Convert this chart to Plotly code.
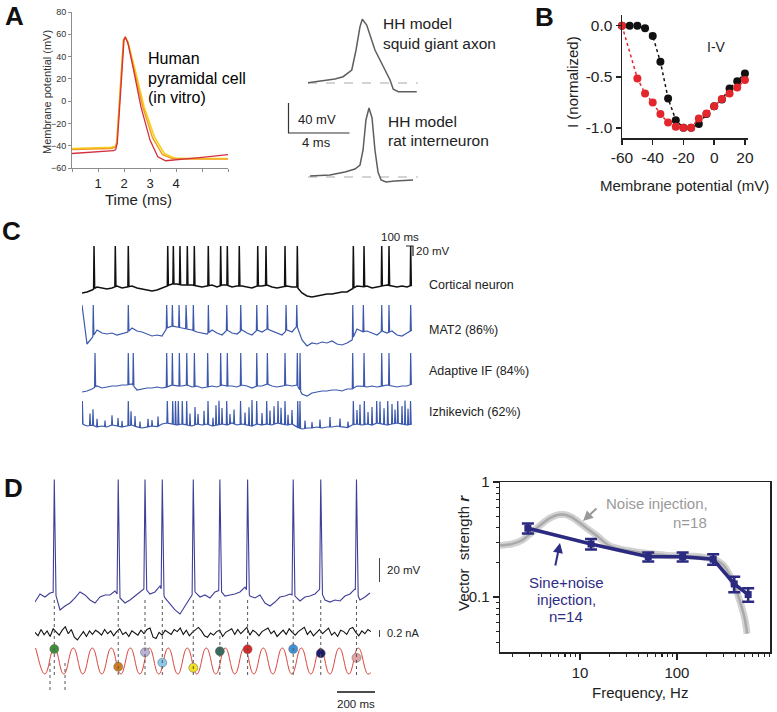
import numpy as np
import plotly.graph_objects as go

W, H = 777, 712
FONT = "Arial, Liberation Sans, Helvetica, sans-serif"

# ======================= DATA =======================
# ---- Panel A (left): human pyramidal cell APs (time ms, mV)
a_yellow_t = [0, 1.0, 1.5, 1.66, 1.72, 1.80, 1.90, 1.98, 2.05, 2.15, 2.40, 2.77, 3.17, 3.55, 3.93, 4.5, 6.0]
a_yellow_v = [-42.5, -42.2, -41.5, -40.8, -37, -10, 30, 55, 57, 53, 31, -5, -32, -47, -51, -51.5, -51.5]
a_orange_t = [0, 1.0, 1.5, 1.66, 1.72, 1.80, 1.90, 1.98, 2.05, 2.15, 2.36, 2.72, 3.10, 3.48, 3.85, 4.5, 6.0]
a_orange_v = [-43.5, -43.2, -42.5, -41.6, -37.5, -10, 30, 55, 57.5, 53, 31, -5, -33, -48, -51.5, -52, -52]
a_red_t = [0, 0.8, 1.6, 1.68, 1.74, 1.82, 1.92, 2.0, 2.05, 2.15, 2.35, 2.65, 3.0, 3.3, 3.6, 4.2, 5.0, 6.0]
a_red_v = [-47, -46, -44.5, -43.5, -38, -10, 30, 55, 57.5, 52, 30, -5, -35, -50, -53.5, -52.5, -50.5, -48]
a_xticks = [0, 1, 2, 3, 4, 5, 6]
a_xlabels = ["", "1", "2", "3", "4", "", ""]
a_yticks = [-60, -40, -20, 0, 20, 40, 60, 80]

# ---- Panel A (right): HH models (time ms, mV)
hh_squid_t = [0, 1.1, 1.77, 2.3, 2.56, 2.87, 3.15, 3.41, 3.56, 3.85, 4.39, 5.05, 5.38, 5.59, 5.92, 7.13]
hh_squid_v = [-64.6, -61.7, -59.7, -56.6, -52.3, -47.7, -21, 10.1, 19.9, 12.3, -21, -47.7, -61, -73.4, -76.6, -76.6]
hh_rat_t = [0.13, 1.44, 2.43, 3.08, 3.41, 3.61, 3.80, 4.00, 4.20, 4.39, 4.59, 4.79, 5.11, 5.70, 6.89]
hh_rat_v = [-63.7, -62.3, -58.3, -54.3, -49, -29, 11, 27, 13.7, -29, -58.3, -69, -71.7, -70.3, -69]
hh_rest_mv = -65
hh_rest_span = [0, 7.2]
hh_bar_ms, hh_bar_mv = 4, 40

# ---- Panel B: I-V curves
iv_v = [-60, -55, -50, -45, -40, -35, -30, -25, -20, -15, -10, -5, 0, 5, 10, 15, 20]
iv_black = [0, 0, 0, -0.026, -0.10, -0.353, -0.712, -0.925, -1.0, -1.0, -0.964, -0.866, -0.788, -0.722, -0.614, -0.543, -0.467]
iv_red_v = [-60, -50, -45, -40, -35, -30, -25, -20, -15, -10, -5, 0, 5, 10, 15, 20]
iv_red = [0, -0.516, -0.663, -0.752, -0.866, -0.948, -0.99, -1.0, -1.0, -0.908, -0.86, -0.788, -0.719, -0.663, -0.605, -0.533]

# ---- Panel C: spike trains (time ms, mV)
c_duration = 4719
c_cortical_base = [-70, -68, -64, -58, -60, -62, -60, -56, -60, -58, -56, -60, -62, -64, -66, -64, -60, -56, -52, -52,
                   -54, -54, -54, -56, -58, -56, -54, -58, -54, -54, -58, -56, -56, -58, -60, -56, -56, -54, -58, -60,
                   -58, -56, -58, -58, -70, -76, -78, -76, -74, -72, -72, -70, -68, -68, -62, -56, -58, -56, -60, -58,
                   -56, -54, -56, -58, -56, -58, -54]
c_cortical_spikes = [172, 476, 662, 1226, 1306, 1401, 1506, 1606, 1806, 1983, 2078, 2249, 2513, 2631, 2903, 3079,
                     3880, 4033, 4286, 4390, 4700]
c_cortical_peak = 24
c_mat2_base = [-14, -92, -80, -64, -70, -72, -70, -74, -72, -70, -60, -66, -68, -72, -76, -74, -76, -60, -56, -58,
               -60, -62, -64, -68, -70, -72, -64, -70, -74, -64, -70, -72, -64, -70, -74, -64, -68, -62, -66, -70,
               -74, -64, -68, -56, -84, -96, -90, -92, -88, -90, -86, -92, -94, -90, -84, -62, -68, -66, -70, -74,
               -66, -70, -66, -74, -76, -70, -64]
c_mat2_spikes = [161, 662, 1211, 1292, 1388, 1488, 1592, 1807, 2070, 2270, 2499, 2651, 2918, 3071, 3872, 4023,
                 4286, 4390, 4700]
c_mat2_peak = -14
c_adif_base = [-78, -76, -72, -66, -70, -68, -66, -66, -64, -64, -62, -74, -72, -70, -70, -68, -70, -68, -64, -66,
               -66, -64, -68, -66, -70, -68, -66, -68, -64, -66, -66, -68, -64, -66, -70, -66, -66, -62, -66, -68,
               -66, -64, -66, -64, -82, -86, -80, -78, -76, -76, -74, -74, -76, -72, -72, -66, -66, -68, -66, -68,
               -66, -64, -66, -68, -66, -66, -62]
c_adif_spikes = [186, 662, 733, 1211, 1292, 1392, 1498, 1607, 1797, 1983, 2078, 2270, 2499, 2651, 2903, 3079, 3118,
                 3871, 4033, 4286, 4390, 4700]
c_adif_peak = 0
c_izh_base = [-64, -68, -66, -70, -68, -70, -66, -68, -70, -68, -66, -70, -72, -70, -68, -70, -64, -62, -64, -66,
              -64, -66, -68, -64, -66, -64, -68, -66, -64, -66, -62, -66, -64, -66, -68, -64, -66, -64, -66, -62,
              -64, -66, -64, -70, -74, -72, -72, -70, -72, -70, -70, -68, -70, -72, -66, -64, -66, -64, -66, -62,
              -64, -66, -64, -62, -64, -66, -64]
c_izh_spikes = [5, 662, 1220, 1297, 1337, 1377, 1434, 1497, 1802, 2069, 2267, 2498, 2641, 2903, 3085, 3117, 3880,
                4037, 4214, 4372, 4515, 4698]
c_izh_peak = -18
c_izh_small_t = [114, 157, 215, 329, 429, 515, 572, 701, 758, 829, 944, 1001, 1087, 1544, 1616, 1659, 1745, 1873,
                 1916, 1959, 2002, 2116, 2174, 2331, 2388, 2431, 2574, 2688, 2746, 2803, 2846, 2946, 3003, 3189,
                 3289, 3403, 3546, 3689, 3804, 3932, 3975, 4090, 4147, 4261, 4319, 4433, 4476, 4576, 4619, 4662]
c_izh_small_h = [24, 32, 16, 12, 20, 16, 12, 28, 20, 12, 16, 12, 20, 24, 36, 20, 28, 16, 40, 48, 32, 20, 28, 24,
                 36, 52, 24, 28, 36, 44, 32, 20, 28, 16, 12, 16, 20, 16, 12, 28, 40, 24, 36, 44, 32, 40, 28, 36,
                 48, 32]
c_bar_ms, c_bar_mv = 100, 20
c_labels = ["Cortical neuron", "MAT2 (86%)", "Adaptive IF (84%)", "Izhikevich (62%)"]

# ---- Panel D (left): sine+noise injection (time ms)
d_duration = 1763
d_vm_base = [-64.2, -57.5, -60, -56.7, -55.8, -70.8, -67.5, -65, -60.8, -55.8, -58.3, -62.5, -65, -60, -58.3, -58.3,
             -55, -60.8, -65, -62.5, -59.2, -55.8, -52.5, -57.5, -55.8, -50.8, -60.8, -65.8, -70.8, -74.2, -67.5,
             -60, -55.8, -60, -58.3, -60.8, -55.8, -54.2, -59.2, -58.3, -57.5, -55.8, -51.7, -59.2, -60.8, -58.3,
             -65, -67.5, -64.2, -60, -59.2, -57.5, -59.2, -63.3, -60, -59.2, -57.5, -53.3, -62.5, -64.2, -62.5,
             -63.3, -59.2, -57.5, -53.3, -62.5, -60, -56.7]
d_spikes = [101.5, 438, 579, 670, 833, 973, 1119, 1359, 1504, 1692]
d_spike_peak = 38
d_current = [0.02, -0.08, 0.10, -0.05, 0.06, -0.10, 0.12, 0.04, -0.06, 0.08, 0.18, -0.02, 0.10, -0.12, -0.20, -0.08,
             0.04, -0.10, 0.06, -0.04, 0.08, 0.02, -0.06, 0.10, -0.02, 0.06, -0.08, 0.04, 0.12, -0.04, 0.02, -0.10,
             0.06, 0.00, -0.06, 0.08, -0.02, 0.10, 0.14, -0.12, -0.16, 0.02, -0.06, 0.08, 0.02, -0.04, 0.10, 0.04,
             0.14, -0.04, 0.08, -0.08, 0.02, 0.10, 0.16, 0.06, -0.08, -0.12, 0.00, -0.06, 0.04, 0.08, -0.10, 0.02,
             0.06, 0.12, -0.04, 0.10, -0.02, 0.06, 0.16, -0.06, 0.08, 0.02, -0.08, 0.04, 0.10, 0.14, -0.02, 0.06,
             -0.10, 0.00, 0.08, -0.04, 0.12, 0.02, -0.06, 0.04, 0.10, 0.16, -0.04, 0.06, -0.08, 0.02, 0.10, -0.02,
             0.06, 0.14, -0.06, 0.02, -0.10, 0.08, 0.04, -0.04, 0.12, 0.16, 0.02, -0.08, 0.06, -0.02, 0.10, 0.04]
d_sine_t = [0, 1.5, 51.5, 101.5, 151.5, 201.5, 251.5, 301.5, 351.5, 401.5, 451.5, 501.5, 551.5, 601.5, 651.5, 701.5,
            751.5, 801.5, 851.5, 901.5, 951.5, 1001.5, 1051.5, 1101.5, 1151.5, 1201.5, 1251.5, 1301.5, 1351.5,
            1401.5, 1451.5, 1501.5, 1551.5, 1601.5, 1651.5, 1701.5, 1751.5, 1768]
d_sine_v = [0.9, 1, -1, 1, -1, 1, -1, 1, -1, 1, -1, 1, -1, 1, -1, 1, -1, 1, -1, 1, -1, 1, -1, 1, -1, 1, -1, 1, -1,
            1, -1, 1, -1, 1, -1, 1, -1, -0.9]
d_dot_level = [0.92, -0.44, 0.67, -0.13, -0.52, 0.75, 0.90, 0.92, 0.59, 0.25]
d_dot_colors = ["#3f8f3a", "#d07d22", "#b9b2d6", "#8cc6ea", "#f2e21c", "#3b6b5c", "#d42a2a", "#3d92d8",
                "#1c1c6a", "#e2a3a3"]
d_extra_marks = [79, 158]
d_bar_ms, d_bar_mv, d_bar_na = 200, 20, 0.2

# ---- Panel D (right): vector strength vs frequency
noise_f = [1.5, 2, 2.5, 3, 3.5, 4, 5, 6, 7, 8, 9, 10, 12, 15, 20, 30, 40, 60, 80, 100, 150, 200, 250, 300, 350,
           400, 450, 500, 530]
noise_r = [0.28, 0.29, 0.31, 0.35, 0.39, 0.43, 0.49, 0.52, 0.52, 0.50, 0.47, 0.44, 0.39, 0.34, 0.28, 0.255, 0.245,
           0.235, 0.23, 0.228, 0.226, 0.22, 0.21, 0.19, 0.155, 0.12, 0.09, 0.065, 0.048]
sine_f = [2.9, 13, 50.6, 114.5, 236.6, 390, 543]
sine_r = [0.396, 0.289, 0.224, 0.224, 0.213, 0.130, 0.105]
sine_err = [0.04, 0.03, 0.02, 0.02, 0.022, 0.02, 0.014]

# ======================= HELPERS =======================
fig = go.Figure()
layout = {}
AX = {}


def add_axis(n, px, py, xr, yr, xtype="linear", ytype="linear", xstyle=None, ystyle=None):
    sfx = "" if n == 1 else str(n)
    AX[n] = (px, py, xr, yr)
    base = dict(showgrid=False, zeroline=False, fixedrange=True, visible=False, automargin=False)
    xa = dict(base, domain=[px[0] / W, px[1] / W], range=xr, type=xtype, anchor="y" + sfx)
    ya = dict(base, domain=[1 - py[1] / H, 1 - py[0] / H], range=yr, type=ytype, anchor="x" + sfx)
    if xstyle:
        xa.update(visible=True, **xstyle)
    if ystyle:
        ya.update(visible=True, **ystyle)
    layout["xaxis" + sfx] = xa
    layout["yaxis" + sfx] = ya


def yr_from(py, ref_py, ref_v, ppu):
    return [ref_v - (py[1] - ref_py) / ppu, ref_v + (ref_py - py[0]) / ppu]


def data_x(n, p):
    px, py, xr, yr = AX[n]
    return xr[0] + (p - px[0]) / (px[1] - px[0]) * (xr[1] - xr[0])


def data_y(n, p):
    px, py, xr, yr = AX[n]
    return yr[1] - (p - py[0]) / (py[1] - py[0]) * (yr[1] - yr[0])


def ref(n):
    return "" if n == 1 else str(n)


def line(n, x, y, color, width=1.2, dash=None, shape="linear", **kw):
    fig.add_trace(go.Scatter(x=list(x), y=list(y), mode="lines", xaxis="x" + ref(n), yaxis="y" + ref(n),
                             line=dict(color=color, width=width, dash=dash, shape=shape), hoverinfo="skip", **kw))


def merge_spikes(t_base, v_base, spike_t, spike_h, pre, post, rel=False):
    tb = np.asarray(t_base, float)
    vb = np.asarray(v_base, float)
    st = np.asarray(spike_t, float)
    sh = np.broadcast_to(np.asarray(spike_h, float), st.shape)
    mask = np.ones(tb.size, bool)
    for s in st:
        mask &= ~((tb > s - pre) & (tb < s + post))
    T = list(tb[mask])
    V = list(vb[mask])
    for s, h in zip(st, sh):
        b0 = np.interp(s - pre, tb, vb)
        b1 = np.interp(s + post, tb, vb)
        T += [s - pre, s, s + post]
        V += [b0, b0 + h if rel else h, b1]
    order = np.argsort(T, kind="stable")
    return np.array(T)[order], np.array(V)[order]


annotations = []


def ann(text, x, y, size, color="#000", xanchor="center", yanchor="middle", angle=0):
    annotations.append(dict(text=text, x=x / W, y=1 - y / H, xref="paper", yref="paper", showarrow=False,
                            font=dict(size=size, color=color, family=FONT), xanchor=xanchor, yanchor=yanchor,
                            textangle=angle))


shapes = []

# ======================= PANEL A left =======================
grey_ax = "#8c8c8c"
add_axis(1, (72, 228), (12, 168), [0, 6], [-60, 80],
         xstyle=dict(showline=True, linecolor=grey_ax, linewidth=1, ticks="outside", ticklen=3, tickcolor=grey_ax,
                     tickmode="array", tickvals=a_xticks, ticktext=a_xlabels, tickfont=dict(size=13, color="#222")),
         ystyle=dict(showline=True, linecolor=grey_ax, linewidth=1, ticks="outside", ticklen=3, tickcolor=grey_ax,
                     tickmode="array", tickvals=a_yticks, tickfont=dict(size=9, color="#333")))
line(1, a_yellow_t, a_yellow_v, "#f6d11c", 1.6)
line(1, a_orange_t, a_orange_v, "#f29a22", 1.4)
line(1, a_red_t, a_red_v, "#d3303e", 1.3)
ann("Membrane potential (mV)", 47, 92, 11, "#333", angle=-90)
ann("Time (ms)", 138, 199, 15, "#222")
ann("Human", 146, 58, 16, xanchor="left")
ann("pyramidal cell", 146, 78, 16, xanchor="left")
ann("(in vitro)", 146, 97, 16, xanchor="left")

# ======================= PANEL A right (HH) =======================
hh_px = (280, 430)
hh_xr = [(280 - 308) / 15.25, (430 - 308) / 15.25]
add_axis(2, hh_px, (10, 140), hh_xr, yr_from((10, 140), 83, hh_rest_mv, 0.75))
add_axis(3, hh_px, (95, 190), hh_xr, yr_from((95, 190), 177, hh_rest_mv, 0.75))
line(2, hh_rest_span, [hh_rest_mv, hh_rest_mv], "#a8a8a8", 1, dash="dash")
line(3, hh_rest_span, [hh_rest_mv, hh_rest_mv], "#a8a8a8", 1, dash="dash")
line(2, hh_squid_t, hh_squid_v, "#5e5e5e", 1.5)
line(3, hh_rat_t, hh_rat_v, "#5e5e5e", 1.5)
bx0, by0 = data_x(2, 288.5), data_y(2, 133)
line(2, [bx0, bx0, bx0 + hh_bar_ms], [by0 + hh_bar_mv, by0, by0], "#333", 1.2)
ann("40 mV", 317, 119, 13, "#222")
ann("4 ms", 316, 142, 13, "#222")
ann("HH model", 381, 23, 15.5, "#222", xanchor="left")
ann("squid giant axon", 381, 43, 15.5, "#222", xanchor="left")
ann("HH model", 386, 121, 15.5, "#222", xanchor="left")
ann("rat interneuron", 386, 140, 15.5, "#222", xanchor="left")

# ======================= PANEL B =======================
add_axis(4, (622, 748), (15, 138), [-60, 22], [-1.10, 0.105],
         xstyle=dict(showline=True, linecolor="#222", linewidth=1.5, ticks="outside", ticklen=5, tickwidth=1.5,
                     tickcolor="#222", tickmode="array", tickvals=[-60, -40, -20, 0, 20],
                     ticktext=["-60", "-40", "-20", "0", "20"], tickfont=dict(size=15.5, color="#222")),
         ystyle=dict(showline=True, linecolor="#222", linewidth=1.5, ticks="outside", ticklen=5, tickwidth=1.5,
                     tickcolor="#222", tickmode="array", tickvals=[0, -0.5, -1.0],
                     ticktext=["0.0", "-0.5", "-1.0"], tickfont=dict(size=15.5, color="#222")))
fig.add_trace(go.Scatter(x=iv_v, y=iv_black, mode="lines+markers", xaxis="x4", yaxis="y4", cliponaxis=False,
                         line=dict(color="#111", width=1.5, dash="dot"), marker=dict(color="#111", size=8),
                         hoverinfo="skip"))
fig.add_trace(go.Scatter(x=iv_red_v, y=iv_red, mode="lines+markers", xaxis="x4", yaxis="y4", cliponaxis=False,
                         line=dict(color="#e3262b", width=1.5, dash="dot"), marker=dict(color="#e3262b", size=8),
                         hoverinfo="skip"))
ann("I-V", 716, 47, 14, "#222")
ann("I (normalized)", 572, 82, 15, "#222", angle=-90)
ann("Membrane potential (mV)", 684, 185, 15, "#222")

# ======================= PANEL C =======================
c_px = (82, 414)
c_xr = [0, (414 - 82) * 14.3]
c_rows = [  # (base, spikes, peak, domain py, ref py, colour, label y)
    (c_cortical_base, c_cortical_spikes, c_cortical_peak, (240, 300), 293, "#111", 285),
    (c_mat2_base, c_mat2_spikes, c_mat2_peak, (300, 352), 333, "#3b58ad", 330),
    (c_adif_base, c_adif_spikes, c_adif_peak, (350, 400), 388, "#3b58ad", 371),
    (c_izh_base, c_izh_spikes, c_izh_peak, (398, 440), 427, "#3b58ad", 412),
]
for i, (base, spk, pk, dom, rpy, col, ly) in enumerate(c_rows):
    n = 5 + i
    add_axis(n, c_px, dom, c_xr, yr_from(dom, rpy, -70, 0.5))
    tb = np.linspace(0, c_duration, len(base))
    if i == 3:
        tb, base = merge_spikes(tb, base, c_izh_small_t, c_izh_small_h, 6, 8, rel=True)
    T, V = merge_spikes(tb, base, spk, pk, 6, 9)
    line(n, T, V, col, 1.5 if i == 0 else 1.2)
    ann(c_labels[i], 427, ly, 12.5, "#222", xanchor="left")
cx1, cy1 = data_x(5, 413), data_y(5, 246)
line(5, [cx1 - c_bar_ms, cx1, cx1], [cy1, cy1, cy1 - c_bar_mv], "#222", 1.2)
ann("100 ms", 400, 237, 11.5, "#222")
ann("20 mV", 414, 251, 11.5, "#222", xanchor="left")

# ======================= PANEL D left =======================
d_px = (35, 380)
d_xr = [0, (380 - 35) * 200 / 38]
add_axis(9, d_px, (470, 620), d_xr, yr_from((470, 620), 597, -60, 1.2))
add_axis(10, d_px, (615, 650), d_xr, yr_from((615, 650), 633, 0, 35))
add_axis(11, d_px, (640, 700), d_xr, yr_from((640, 700), 661, 0, 13))
for s in d_spikes:
    shapes.append(dict(type="line", xref="x9", yref="paper", x0=s, x1=s, y0=1 - 600 / H, y1=1 - 676 / H,
                       line=dict(color="#555", width=1, dash="dot")))
for s in d_extra_marks:
    shapes.append(dict(type="line", xref="x9", yref="paper", x0=s, x1=s, y0=1 - 663 / H, y1=1 - 691 / H,
                       line=dict(color="#555", width=1, dash="dot")))
tD = np.linspace(0, d_duration, len(d_vm_base))
T, V = merge_spikes(tD, d_vm_base, d_spikes, d_spike_peak, 6, 9)
line(9, T, V, "#3f3f98", 1.1)
line(10, np.linspace(0, 1768, len(d_current)), d_current, "#111", 1.1)
fig.add_trace(go.Scatter(x=d_sine_t, y=d_sine_v, mode="lines", xaxis="x11", yaxis="y11",
                         line=dict(color="#d8453c", width=1, shape="spline", smoothing=1.3), hoverinfo="skip"))
fig.add_trace(go.Scatter(x=d_spikes, y=d_dot_level, mode="markers", xaxis="x11", yaxis="y11", cliponaxis=False,
                         marker=dict(color=d_dot_colors, size=9, line=dict(color="#666", width=0.5)),
                         hoverinfo="skip"))
vx = data_x(9, 380)
vy = data_y(9, 582)
line(9, [vx, vx], [vy, vy + d_bar_mv], "#111", 1.6)
ix = data_x(10, 380)
iy = data_y(10, 637)
line(10, [ix, ix], [iy, iy + d_bar_na], "#111", 1.6)
hx = data_x(11, 337)
hy = data_y(11, 692)
line(11, [hx, hx + d_bar_ms], [hy, hy], "#111", 1.6)
ann("20 mV", 385, 570, 11.5, "#222", xanchor="left")
ann("0.2 nA", 385, 633, 11, "#222", xanchor="left")
ann("200 ms", 356, 704, 11.5, "#222")

# ======================= PANEL D right =======================
minor_x = [2, 3, 4, 5, 6, 7, 8, 9, 20, 30, 40, 50, 60, 70, 80, 90, 200, 300, 400, 500, 600, 700, 800, 900]
minor_y = [0.04, 0.05, 0.06, 0.07, 0.08, 0.09, 0.2, 0.3, 0.4, 0.5, 0.6, 0.7, 0.8, 0.9]
add_axis(12, (500, 770), (482, 652), [0.175, 2.96], [-1.478, 0], xtype="log", ytype="log",
         xstyle=dict(showline=True, mirror=True, linecolor="#222", linewidth=1.5, ticks="outside", ticklen=6,
                     tickwidth=1.5, tickcolor="#222", tickmode="array", tickvals=[10, 100], ticktext=["10", "100"],
                     tickfont=dict(size=15, color="#222"),
                     minor=dict(tickmode="array", tickvals=minor_x, ticks="outside", ticklen=3, tickcolor="#222",
                                tickwidth=1.2)),
         ystyle=dict(showline=True, mirror=True, linecolor="#222", linewidth=1.5, ticks="outside", ticklen=6,
                     tickwidth=1.5, tickcolor="#222", tickmode="array", tickvals=[0.1, 1], ticktext=["0.1", "1"],
                     tickfont=dict(size=15, color="#222"),
                     minor=dict(tickmode="array", tickvals=minor_y, ticks="outside", ticklen=3, tickcolor="#222",
                                tickwidth=1.2)))
line(12, noise_f, noise_r, "#d2d2d2", 7, shape="spline")
line(12, noise_f, noise_r, "#a9a9a9", 2.5, shape="spline")
fig.add_trace(go.Scatter(x=sine_f, y=sine_r, mode="lines+markers", xaxis="x12", yaxis="y12",
                         line=dict(color="#2b2a80", width=3.5), marker=dict(color="#2b2a80", size=7, symbol="square"),
                         error_y=dict(type="data", array=sine_err, color="#2b2a80", thickness=2.5, width=6),
                         hoverinfo="skip"))
ann("Noise injection,", 604, 503, 15, "#9a9a9a", xanchor="left")
ann("n=18", 709, 522, 15, "#9a9a9a", xanchor="right")
ann("Sine+noise", 566, 582, 15, "#2e2d86")
ann("injection,", 566, 599, 15, "#2e2d86")
ann("n=14", 566, 616, 15, "#2e2d86")
ann("Vector  strength <b><i>r</i></b>", 463, 553, 15, "#222", angle=-90)
ann("Frequency, Hz", 640, 692, 15, "#222")
annotations.append(dict(x=583 / W, y=1 - 521 / H, xref="paper", yref="paper", ax=15, ay=-14, axref="pixel",
                        ayref="pixel", text="", showarrow=True, arrowhead=2, arrowsize=1, arrowwidth=2,
                        arrowcolor="#9a9a9a"))
annotations.append(dict(x=560 / W, y=1 - 543 / H, xref="paper", yref="paper", ax=-5, ay=24, axref="pixel",
                        ayref="pixel", text="", showarrow=True, arrowhead=2, arrowsize=1, arrowwidth=2,
                        arrowcolor="#2e2d86"))

# ======================= panel letters =======================
for letter, (lx, ly) in {"A": (14, 16), "B": (544, 17), "C": (11, 231), "D": (13, 488)}.items():
    ann("<b>%s</b>" % letter, lx, ly, 26, "#111")

fig.update_layout(width=W, height=H, margin=dict(l=0, r=0, t=0, b=0, pad=0, autoexpand=False),
                  paper_bgcolor="white", plot_bgcolor="rgba(0,0,0,0)", showlegend=False, font=dict(family=FONT),
                  annotations=annotations, shapes=shapes, **layout)
fig.write_html("out.html", config={"displayModeBar": False, "staticPlot": True},
               post_script="document.body.style.margin='0px';document.body.style.overflow='hidden';")
